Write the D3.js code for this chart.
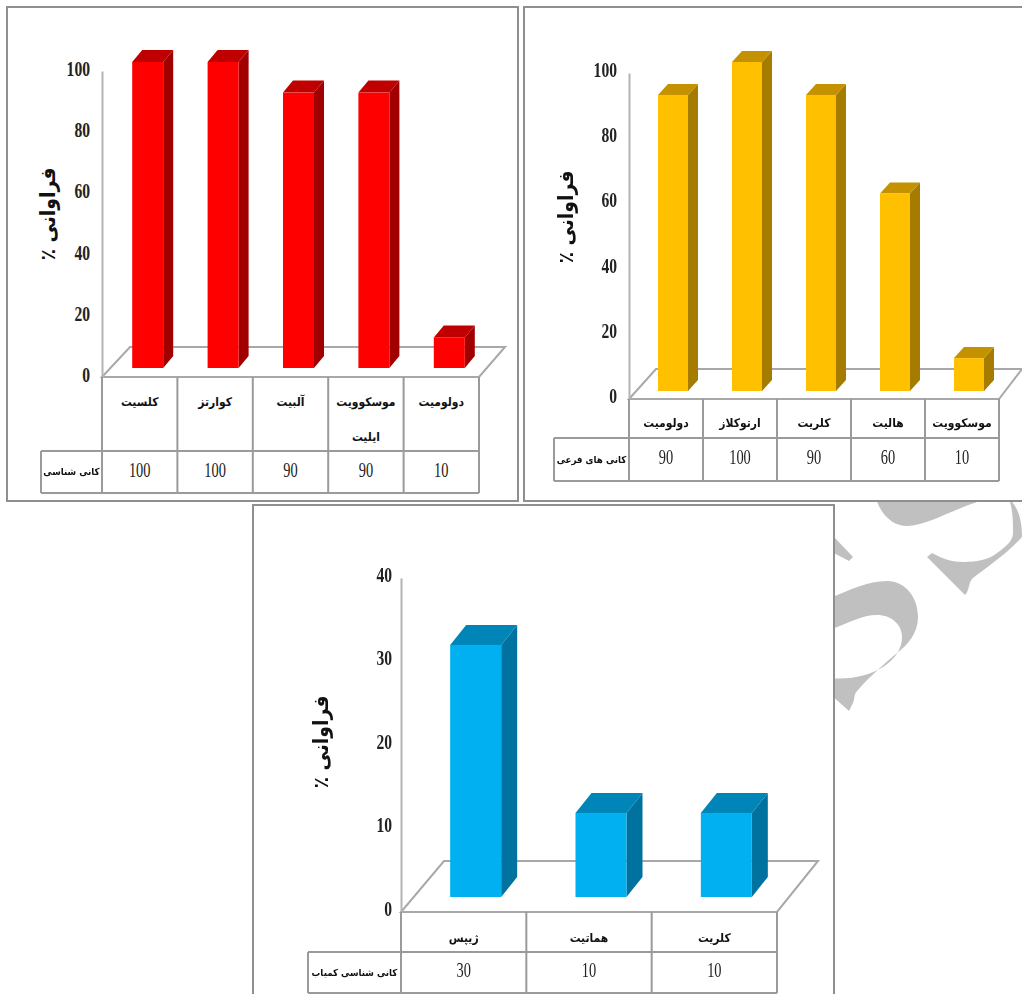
<!DOCTYPE html>
<html lang="fa">
<head>
<meta charset="utf-8">
<script src="https://cdn.jsdelivr.net/npm/d3@7"></script>
<style>
    html, body { margin: 0; padding: 0; background: #fff; overflow: hidden; }
    svg { display: block; filter: blur(0.45px); }
    .num { font-family: "Liberation Serif", serif; fill: #222; }
    .fa { font-family: "DejaVu Sans Condensed", "DejaVu Sans", sans-serif; fill: #111; direction: rtl; }
</style>
</head>
<body>
<div id="chart"></div>
<script>
/* chart values */
const mainMinerals = ["کلسیت", "کوارتز", "آلبیت", "موسکوویت|ایلیت", "دولومیت"];
const mainValues = [100, 100, 90, 90, 10];
const mainRowLabel = "کانی شناسی";

const minorMinerals = ["دولومیت", "ارتوکلاز", "کلریت", "هالیت", "موسکوویت"];
const minorValues = [90, 100, 90, 60, 10];
const minorRowLabel = "کانی های فرعی";

const rareMinerals = ["ژیپس", "هماتیت", "کلریت"];
const rareValues = [30, 10, 10];
const rareRowLabel = "کانی شناسی کمیاب";

const percentTicks = [0, 20, 40, 60, 80, 100];
const rareTicks = [0, 10, 20, 30, 40];
const axisTitle = "فراوانی ٪";

const squeeze = 0.78;

const svg = d3.select("#chart").append("svg")
    .attr("width", 1022)
    .attr("height", 994);

// grey watermark behind the frames
const watermark = svg.append("g").attr("fill", "#c0c0c0");
watermark.append("path").attr("d",
    "M830,598 C850,590 868,581 887,581 C906,581 918,598 918,617 C918,633 908,645 897,653 " +
    "C882,666 868,678 858,690 C853,695 855,699 853,703 L849,711 L830,694 L830,678 " +
    "C850,680 868,676 883,667 C895,659 902,649 902,637 C902,624 891,615 877,615 C862,615 848,623 830,630 Z");
watermark.append("path").attr("d",
    "M875,495 C880,515 893,526 907,526 C925,526 950,511 977,502 L982,495 L1004,495 " +
    "C1018,503 1022,520 1022,537 C1008,553 990,565 973,578 C968,582 970,590 965,595 " +
    "L927,557 L932,553 C943,559 952,562 963,562 C978,562 990,559 997,553 C1008,545 1013,540 1013,533 " +
    "C1013,520 1013,510 1008,495 Z");
watermark.append("path").attr("d", "M830,533 L835,538 L853,557 L849,561 L830,551 Z");

class BarVis {

    constructor(opts) {
        Object.assign(this, opts);
        this.initVis();
    }

    initVis() {
        let vis = this;

        vis.svg = svg.append("g");

        vis.svg.append("rect")
            .attr("x", vis.frame[0])
            .attr("y", vis.frame[1])
            .attr("width", vis.frame[2])
            .attr("height", vis.frame[3])
            .attr("fill", "#fff")
            .attr("stroke", "#8f8f8f")
            .attr("stroke-width", 2);

        // scales: one for the table columns, one for the bars, one for the axis
        vis.x = d3.scaleBand()
            .domain(vis.categories)
            .range([vis.plot.left, vis.plot.right]);

        vis.barY = d3.scaleLinear()
            .domain([0, vis.maxValue])
            .range([vis.bar.base, vis.bar.top]);

        vis.axisY = d3.scaleLinear()
            .domain([0, vis.maxValue])
            .range([vis.plot.floor, vis.plot.top]);

        vis.drawFloor();
        vis.drawBars();
        vis.drawAxis();
        vis.drawTable();
    }

    drawFloor() {
        let vis = this;
        let p = vis.plot;
        vis.svg.append("path")
            .attr("d", `M${p.left},${p.floor} L${p.right},${p.floor} L${p.backRight},${p.back} L${p.backLeft},${p.back} Z`)
            .attr("fill", "none")
            .attr("stroke", "#a8a8a8")
            .attr("stroke-width", 2);
    }

    drawBars() {
        let vis = this;
        let b = vis.bar;
        let data = vis.categories.map((c, i) => ({category: c, value: vis.values[i]}));
        let x0 = d => vis.x(d.category) + vis.x.bandwidth() / 2 + b.shift - b.width / 2;
        let x1 = d => x0(d) + b.width;

        let bars = vis.svg.selectAll("g.bar")
            .data(data)
            .enter().append("g")
            .attr("class", "bar");

        // side face
        bars.append("path")
            .attr("fill", vis.colors.side)
            .attr("d", d => {
                let y = vis.barY(d.value);
                return `M${x1(d)},${y} L${x1(d) + b.dx},${y - b.dy} L${x1(d) + b.dx},${b.base - b.dy} L${x1(d)},${b.base} Z`;
            });

        // top face
        bars.append("path")
            .attr("fill", vis.colors.top)
            .attr("d", d => {
                let y = vis.barY(d.value);
                return `M${x0(d)},${y} L${x0(d) + b.dx},${y - b.dy} L${x1(d) + b.dx},${y - b.dy} L${x1(d)},${y} Z`;
            });

        // front face
        bars.append("rect")
            .attr("fill", vis.colors.front)
            .attr("x", d => x0(d))
            .attr("y", d => vis.barY(d.value))
            .attr("width", b.width)
            .attr("height", d => b.base - vis.barY(d.value));
    }

    drawAxis() {
        let vis = this;

        let axis = d3.axisLeft(vis.axisY)
            .tickValues(vis.ticks)
            .tickSize(0)
            .tickFormat(d3.format("d"));

        let g = vis.svg.append("g")
            .attr("transform", `translate(${vis.plot.left},0)`)
            .call(axis);

        g.select(".domain")
            .attr("stroke", "#b4b4b4")
            .attr("stroke-width", 2);

        g.selectAll("text")
            .attr("class", "num")
            .attr("font-size", 20)
            .attr("font-weight", "bold")
            .attr("x", -vis.tickGap / squeeze)
            .attr("y", vis.tickShift)
            .attr("transform", `scale(${squeeze},1)`);

        vis.svg.append("text")
            .attr("class", "fa")
            .attr("transform", `translate(${vis.titlePos[0]},${vis.titlePos[1]}) rotate(-90)`)
            .attr("text-anchor", "middle")
            .attr("dominant-baseline", "middle")
            .attr("font-size", 21)
            .attr("font-weight", "bold")
            .text(axisTitle);
    }

    drawTable() {
        let vis = this;
        let p = vis.plot;
        let t = vis.table;
        let step = vis.x.step();
        let lineColor = "#9a9a9a";

        let lines = vis.svg.append("g")
            .attr("stroke", lineColor)
            .attr("stroke-width", 2);

        // column separators
        d3.range(vis.categories.length + 1).forEach(i => {
            lines.append("line")
                .attr("x1", p.left + i * step)
                .attr("x2", p.left + i * step)
                .attr("y1", p.floor)
                .attr("y2", t.bottom);
        });

        // row separators and the label cell
        lines.append("line").attr("x1", t.left).attr("x2", p.right).attr("y1", t.mid).attr("y2", t.mid);
        lines.append("line").attr("x1", t.left).attr("x2", p.right).attr("y1", t.bottom).attr("y2", t.bottom);
        lines.append("line").attr("x1", t.left).attr("x2", t.left).attr("y1", t.mid).attr("y2", t.bottom);

        // mineral names, a | marks a second line
        vis.categories.forEach(c => {
            let cx = vis.x(c) + vis.x.bandwidth() / 2;
            c.split("|").forEach((part, i) => {
                vis.svg.append("text")
                    .attr("class", "fa")
                    .attr("x", cx)
                    .attr("y", t.nameY + i * 35)
                    .attr("text-anchor", "middle")
                    .attr("dominant-baseline", "middle")
                    .attr("font-size", vis.nameSize)
                    .attr("font-weight", "bold")
                    .text(part);
            });
        });

        // values row
        let valueY = (t.mid + t.bottom) / 2;
        vis.categories.forEach((c, i) => {
            let cx = vis.x(c) + vis.x.bandwidth() / 2;
            vis.svg.append("text")
                .attr("class", "num")
                .attr("transform", `translate(${cx},${valueY}) scale(0.72,1)`)
                .attr("text-anchor", "middle")
                .attr("dominant-baseline", "middle")
                .attr("font-size", 20)
                .text(vis.values[i]);
        });

        vis.svg.append("text")
            .attr("class", "fa")
            .attr("x", (t.left + p.left) / 2)
            .attr("y", valueY)
            .attr("text-anchor", "middle")
            .attr("dominant-baseline", "middle")
            .attr("font-size", vis.rowSize)
            .attr("font-weight", "bold")
            .text(vis.rowLabel);
    }
}

new BarVis({
    categories: mainMinerals, values: mainValues, rowLabel: mainRowLabel,
    ticks: percentTicks, maxValue: 100, tickGap: 12, tickShift: -2,
    frame: [7, 7, 511, 494],
    plot: {left: 102, right: 479, floor: 377, top: 71, back: 347, backLeft: 130, backRight: 505},
    bar: {base: 368, top: 62, width: 31, shift: 8, dx: 10, dy: 12},
    table: {left: 41, mid: 451, bottom: 493, nameY: 402},
    colors: {front: "#ff0000", side: "#a00000", top: "#c00000"},
    titlePos: [49, 214], nameSize: 12, rowSize: 9.7
});

new BarVis({
    categories: minorMinerals, values: minorValues, rowLabel: minorRowLabel,
    ticks: percentTicks, maxValue: 100, tickGap: 12, tickShift: -3,
    frame: [524, 7, 510, 494],
    plot: {left: 629, right: 999, floor: 399, top: 73, back: 369, backLeft: 656, backRight: 1022},
    bar: {base: 391, top: 62, width: 30, shift: 7, dx: 10, dy: 11},
    table: {left: 554, mid: 438, bottom: 481, nameY: 423},
    colors: {front: "#ffc000", side: "#a67c00", top: "#c49200"},
    titlePos: [567, 217], nameSize: 12, rowSize: 9.7
});

new BarVis({
    categories: rareMinerals, values: rareValues, rowLabel: rareRowLabel,
    ticks: rareTicks, maxValue: 40, tickGap: 9, tickShift: -3,
    frame: [253, 505, 581, 500],
    plot: {left: 401, right: 777, floor: 912, top: 578, back: 861, backLeft: 444, backRight: 818},
    bar: {base: 897, top: 561, width: 51, shift: 12, dx: 16, dy: 20},
    table: {left: 308, mid: 952, bottom: 993, nameY: 938},
    colors: {front: "#00b0f0", side: "#0072a0", top: "#0085b8"},
    titlePos: [322, 742], nameSize: 12, rowSize: 9.7
});
</script>
</body>
</html>
